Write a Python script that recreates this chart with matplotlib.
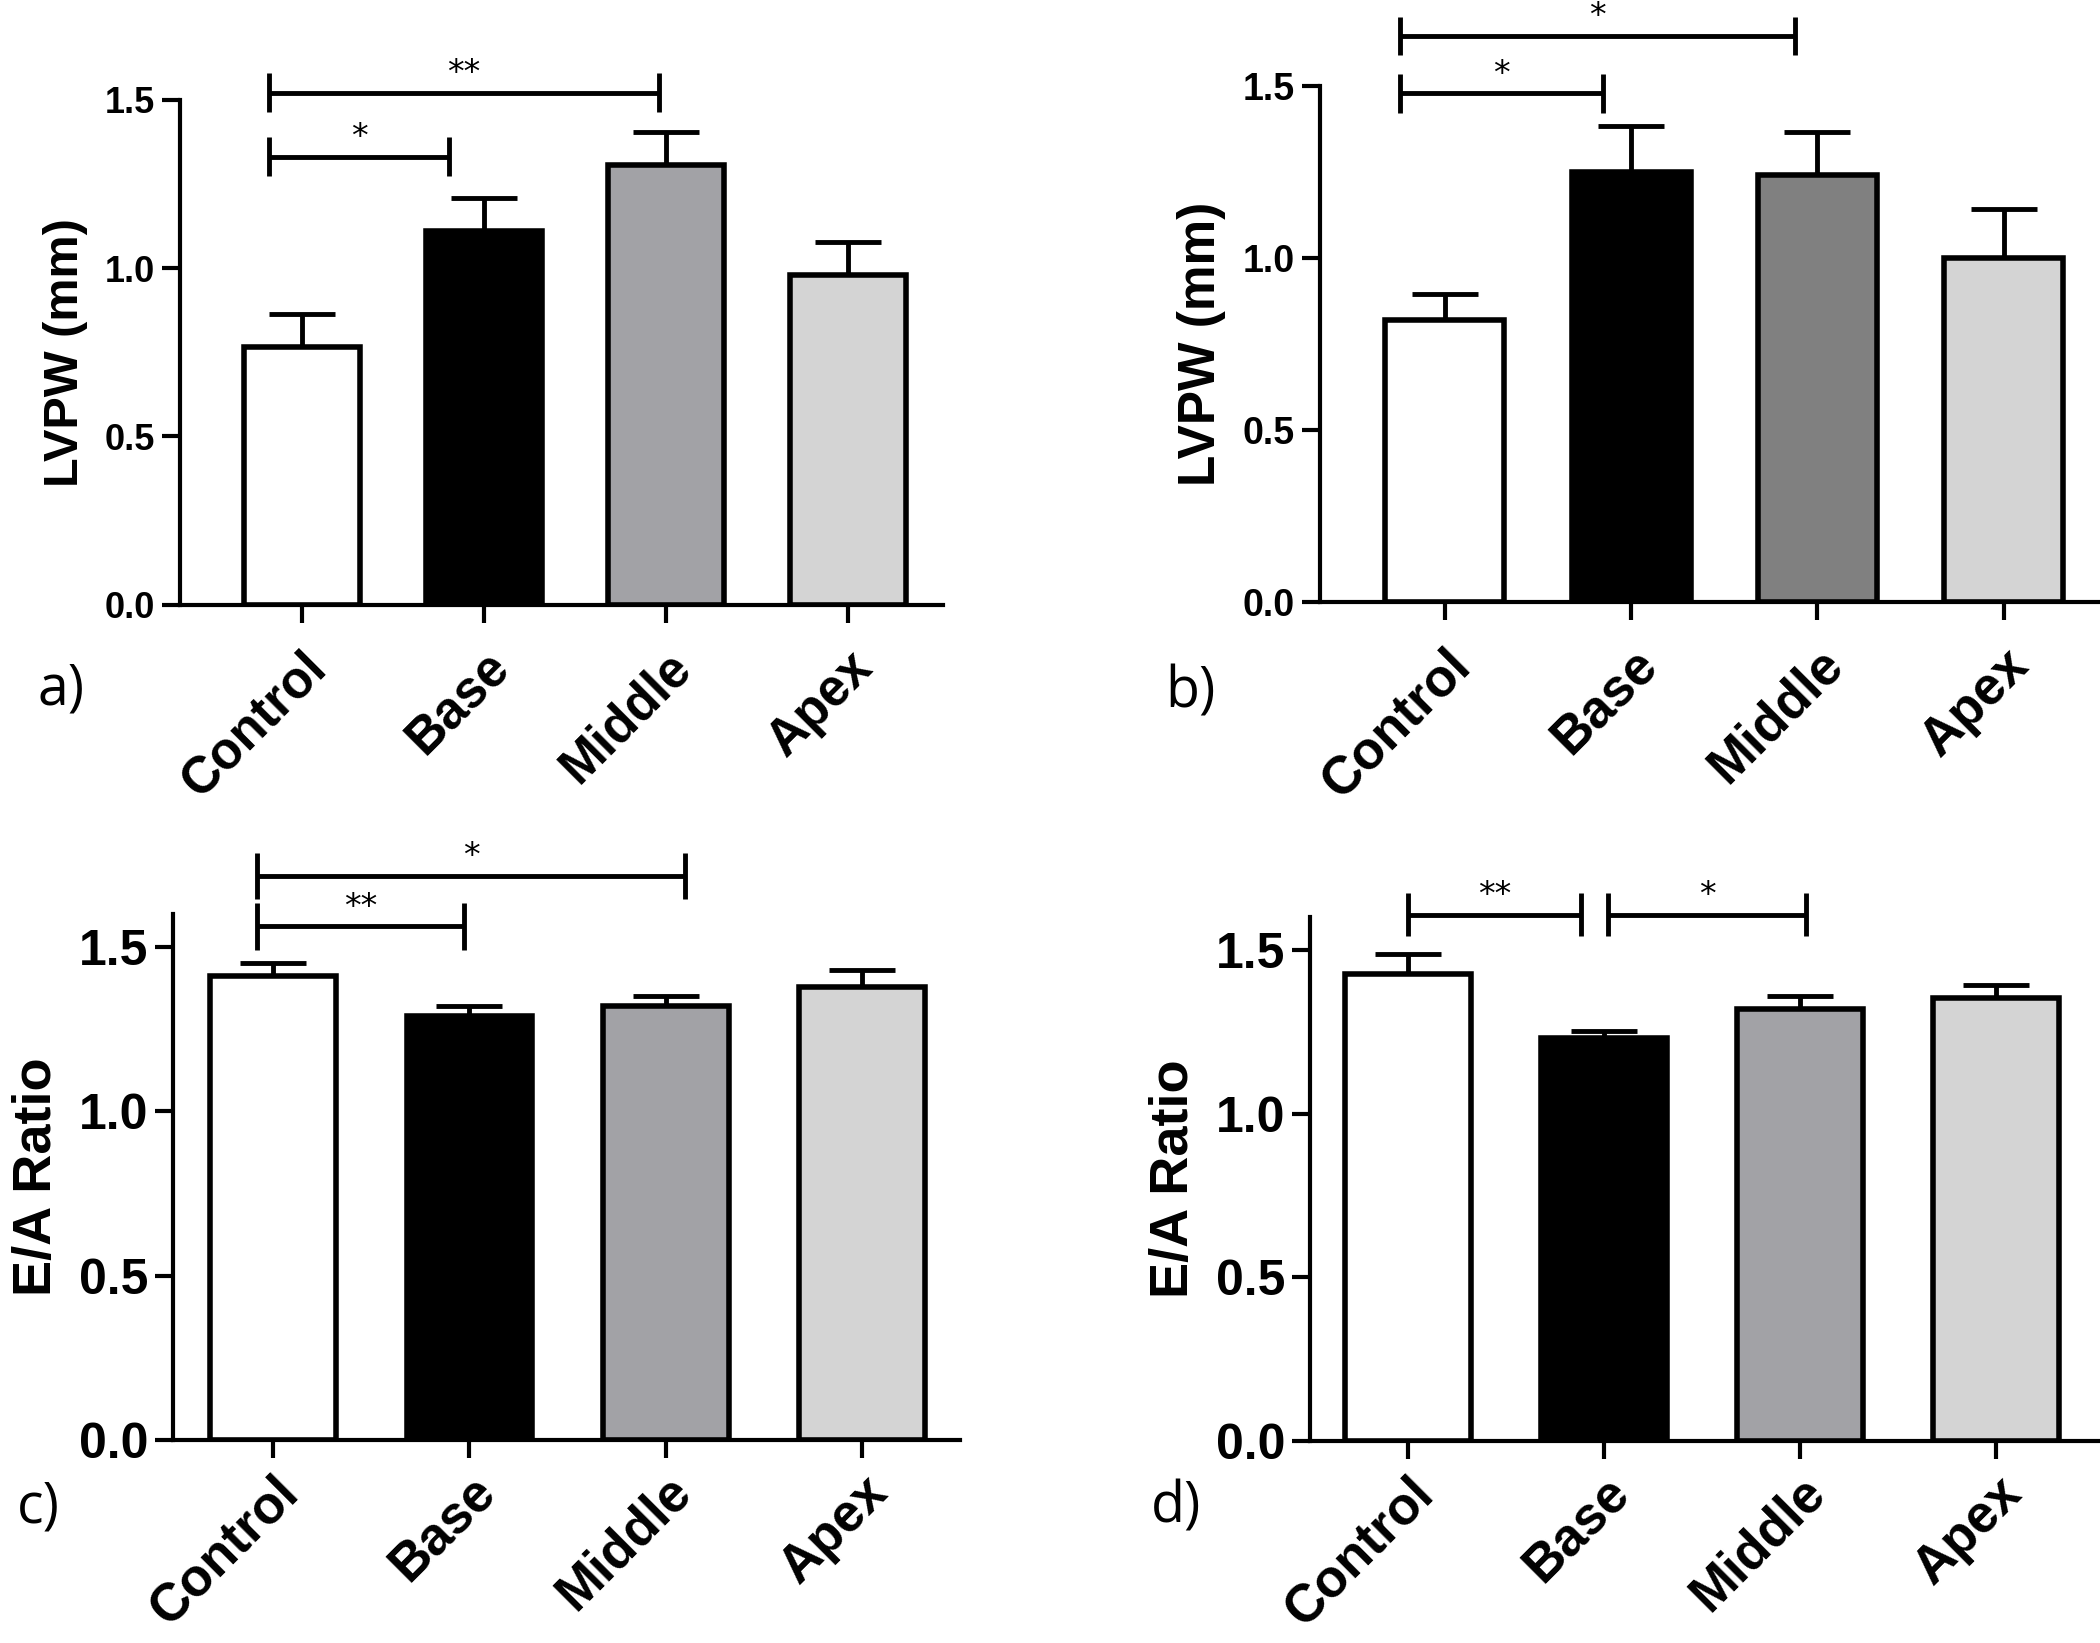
import numpy as np
import matplotlib
matplotlib.use('Agg')
import matplotlib.pyplot as plt
from matplotlib.transforms import ScaledTranslation

plt.rcParams['font.family'] = ['Liberation Sans', 'DejaVu Sans']

groups = ['Control', 'Base', 'Middle', 'Apex']

lvpw_a_mean = [0.765, 1.11, 1.305, 0.98]
lvpw_a_sem = [0.10, 0.097, 0.10, 0.097]
lvpw_b_mean = [0.82, 1.25, 1.242, 1.00]
lvpw_b_sem = [0.074, 0.133, 0.123, 0.141]
ea_c_mean = [1.41, 1.29, 1.321, 1.377]
ea_c_sem = [0.041, 0.03, 0.03, 0.053]
ea_d_mean = [1.426, 1.232, 1.319, 1.352]
ea_d_sem = [0.061, 0.021, 0.04, 0.041]

colors_a = ['white', 'black', '#a2a2a6', '#d4d4d4']
colors_b = ['white', 'black', '#808080', '#d4d4d4']

# significance brackets: (start, end, height, label)
brackets_a = [(-0.18, 0.81, 1.33, '*'), (-0.18, 1.96, 1.52, '**')]
brackets_b = [(-0.24, 0.85, 1.478, '*'), (-0.24, 1.88, 1.645, '*')]
brackets_c = [(-0.08, 0.97, 1.562, '**'), (-0.08, 2.10, 1.716, '*')]
brackets_d = [(0.0, 0.88, 1.607, '**'), (1.02, 2.03, 1.607, '*')]

fig = plt.figure(figsize=(21, 16.43), dpi=100)


def panel(rect, means, sems, colors, xlim, ylim, ylabel, brackets, half,
          ysize, xsize, lsize, dx, xpad):
    ax = fig.add_axes(rect)
    x = np.arange(len(groups))
    ax.bar(x, means, width=0.64, color=colors, edgecolor='black',
           linewidth=4, zorder=2)
    ax.errorbar(x, means, yerr=[np.zeros(len(means)), sems], fmt='none',
                ecolor='black', elinewidth=3.5, capsize=24, capthick=3.5,
                zorder=1)
    ax.set_xlim(*xlim)
    ax.set_ylim(*ylim)
    ax.set_yticks([0, 0.5, 1.0, 1.5])
    ax.set_yticklabels(['0.0', '0.5', '1.0', '1.5'], fontsize=ysize,
                       fontweight='bold')
    ax.set_xticks(x)
    ax.set_xticklabels(groups, rotation=45, ha='right', va='top',
                       rotation_mode='anchor', fontsize=xsize,
                       fontweight='bold')
    for lab in ax.get_xticklabels():
        lab.set_transform(lab.get_transform() +
                          ScaledTranslation(dx, 0, fig.dpi_scale_trans))
    ax.set_ylabel(ylabel, fontsize=lsize, fontweight='bold', labelpad=12)
    for s in ['top', 'right']:
        ax.spines[s].set_visible(False)
    for s in ['left', 'bottom']:
        ax.spines[s].set_linewidth(3)
    ax.tick_params(axis='both', width=3, length=13)
    ax.tick_params(axis='y', pad=5)
    ax.tick_params(axis='x', pad=xpad)
    for x1, x2, y, lab in brackets:
        ax.plot([x1, x2], [y, y], color='black', lw=3.5, clip_on=False,
                solid_capstyle='butt')
        ax.plot([x1, x1], [y - half, y + half], color='black', lw=3.5,
                clip_on=False, solid_capstyle='butt')
        ax.plot([x2, x2], [y - half, y + half], color='black', lw=3.5,
                clip_on=False, solid_capstyle='butt')
        ax.annotate(lab, xy=((x1 + x2) / 2, y), xytext=(0, 2),
                    textcoords='offset points', ha='center', va='bottom',
                    fontsize=24, family='DejaVu Sans', annotation_clip=False)
    return ax


panel([0.0857, 0.6318, 0.3633, 0.3076], lvpw_a_mean, lvpw_a_sem, colors_a,
      (-0.67, 3.52), (0, 1.5), 'LVPW (mm)', brackets_a, 0.058, 26, 37, 35,
      0.12, 14)
panel([0.6286, 0.6336, 0.3717, 0.3141], lvpw_b_mean, lvpw_b_sem, colors_b,
      (-0.67, 3.52), (0, 1.5), 'LVPW (mm)', brackets_b, 0.056, 27, 38, 37,
      0.12, 14)
panel([0.0824, 0.1236, 0.3748, 0.3201], ea_c_mean, ea_c_sem, colors_a,
      (-0.51, 3.5), (0, 1.6), 'E/A Ratio', brackets_c, 0.07, 36, 38, 39,
      0.22, 6)
panel([0.6238, 0.1229, 0.3762, 0.3190], ea_d_mean, ea_d_sem, colors_a,
      (-0.5, 3.53), (0, 1.6), 'E/A Ratio', brackets_d, 0.065, 36, 38, 39,
      0.22, 6)

for lx, ly, lab in [(0.018, 0.58, 'a)'), (0.555, 0.578, 'b)'),
                    (0.008, 0.082, 'c)'), (0.548, 0.082, 'd)')]:
    fig.text(lx, ly, lab, fontsize=40, family=['Open Sans', 'DejaVu Sans'],
             va='center')

fig.savefig('out.png', dpi=100)
